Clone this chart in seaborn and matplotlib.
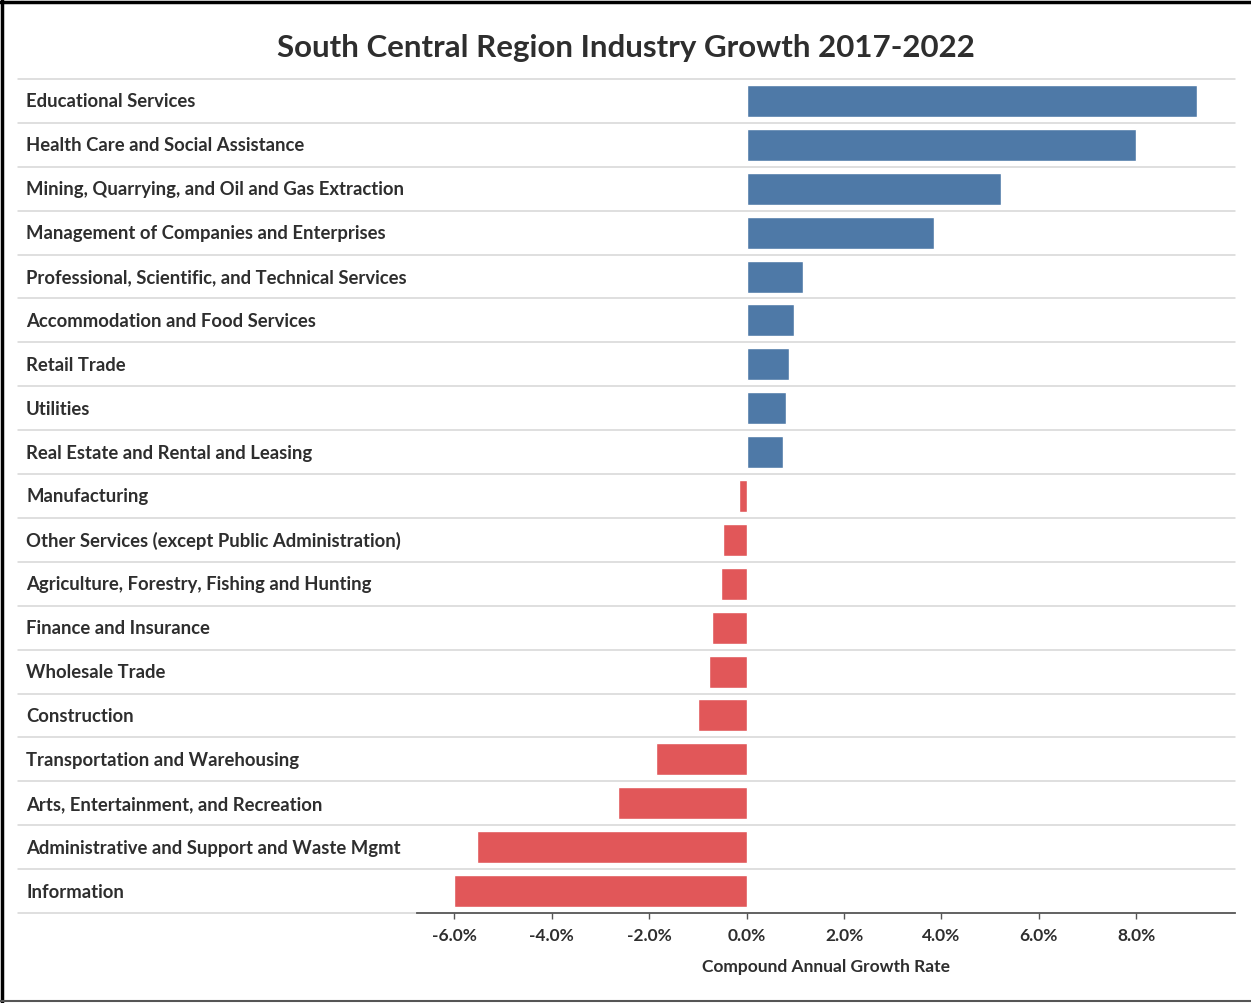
import matplotlib
matplotlib.use("Agg")
import matplotlib.pyplot as plt
from matplotlib.lines import Line2D
from matplotlib.ticker import FuncFormatter, FixedLocator
import seaborn as sns
import pandas as pd

# Industry compound annual growth rates, 2017-2022 (percent)
industries = [
    "Educational Services",
    "Health Care and Social Assistance",
    "Mining, Quarrying, and Oil and Gas Extraction",
    "Management of Companies and Enterprises",
    "Professional, Scientific, and Technical Services",
    "Accommodation and Food Services",
    "Retail Trade",
    "Utilities",
    "Real Estate and Rental and Leasing",
    "Manufacturing",
    "Other Services (except Public Administration)",
    "Agriculture, Forestry, Fishing and Hunting",
    "Finance and Insurance",
    "Wholesale Trade",
    "Construction",
    "Transportation and Warehousing",
    "Arts, Entertainment, and Recreation",
    "Administrative and Support and Waste Mgmt",
    "Information",
]
growth = [9.25, 8.0, 5.23, 3.84, 1.15, 0.97, 0.87, 0.81, 0.74, -0.15,
          -0.49, -0.53, -0.72, -0.77, -0.99, -1.87, -2.64, -5.54, -6.0]
tick_values = [-6, -4, -2, 0, 2, 4, 6, 8]

title = "South Central Region Industry Growth 2017-2022"
x_title = "Compound Annual Growth Rate"

BLUE = "#4E79A7"
RED = "#E15759"
TEXT = "#2e2e2e"
GRID = "#d6d6d6"

sns.set_theme(style="white")
plt.rcParams["font.family"] = ["Lato", "DejaVu Sans"]

df = pd.DataFrame({"industry": industries, "growth": growth})
df["direction"] = ["up" if v >= 0 else "down" for v in df["growth"]]

W, H = 1251, 1004
fig = plt.figure(figsize=(W / 100, H / 100), dpi=100)
fig.patch.set_facecolor("white")

left_px, right_px, top_px, bottom_px = 417, 1235, 80, 914
ax = fig.add_axes([left_px / W, 1 - bottom_px / H,
                   (right_px - left_px) / W, (bottom_px - top_px) / H])
ax.set_facecolor("none")

sns.barplot(data=df, x="growth", y="industry", hue="direction",
            palette={"up": BLUE, "down": RED}, orient="h",
            width=0.73, legend=False, ax=ax, saturation=1, zorder=3)

ax.set_xlim(-6.77, 10.03)
ax.set_ylim(len(industries) - 0.5, -0.5)

for s in ["top", "right", "left"]:
    ax.spines[s].set_visible(False)
ax.spines["bottom"].set_color("#555555")
ax.spines["bottom"].set_linewidth(1.3)
ax.spines["bottom"].set_zorder(4)

ax.xaxis.set_major_locator(FixedLocator(tick_values))
ax.xaxis.set_major_formatter(FuncFormatter(lambda v, p: f"{v:.1f}%"))
ax.tick_params(axis="x", bottom=True, length=4, width=1, color="#555555",
               labelsize=12.5, labelcolor=TEXT, pad=6)
for lbl in ax.get_xticklabels():
    lbl.set_fontweight("bold")
ax.set_yticks([])
ax.set_ylabel("")
ax.set_xlabel(x_title, fontsize=12.5, fontweight="bold", color=TEXT, labelpad=11)
ax.grid(False)

# Row labels and row separators spanning the full table width
blend = matplotlib.transforms.blended_transform_factory(fig.transFigure, ax.transData)
x0 = 18 / W
x1 = right_px / W
for i, name in enumerate(industries):
    fig.text(26 / W, i, name, transform=blend, ha="left", va="center",
             fontsize=13.3, fontweight="bold", color=TEXT)

for k in range(len(industries)):
    y = k - 0.5
    fig.add_artist(Line2D([x0, x1], [y, y], transform=blend,
                          color=GRID, lw=1.1, zorder=0))
fig.add_artist(Line2D([x0, left_px / W], [len(industries) - 0.5] * 2,
                      transform=blend, color=GRID, lw=1.1, zorder=0))

fig.text(0.5, 1 - 48 / H, title, ha="center", va="center",
         fontsize=22.5, fontweight="bold", color=TEXT)

# Frame around the figure
fig.add_artist(Line2D([0, 1], [1 - 3 / H, 1 - 3 / H], color="black", lw=2.5))
fig.add_artist(Line2D([2 / W, 2 / W], [0, 1], color="black", lw=2.5))
fig.add_artist(Line2D([0, 1], [2 / H, 2 / H], color="#555555", lw=1.5))

fig.savefig("out.png", dpi=100, facecolor="white")
